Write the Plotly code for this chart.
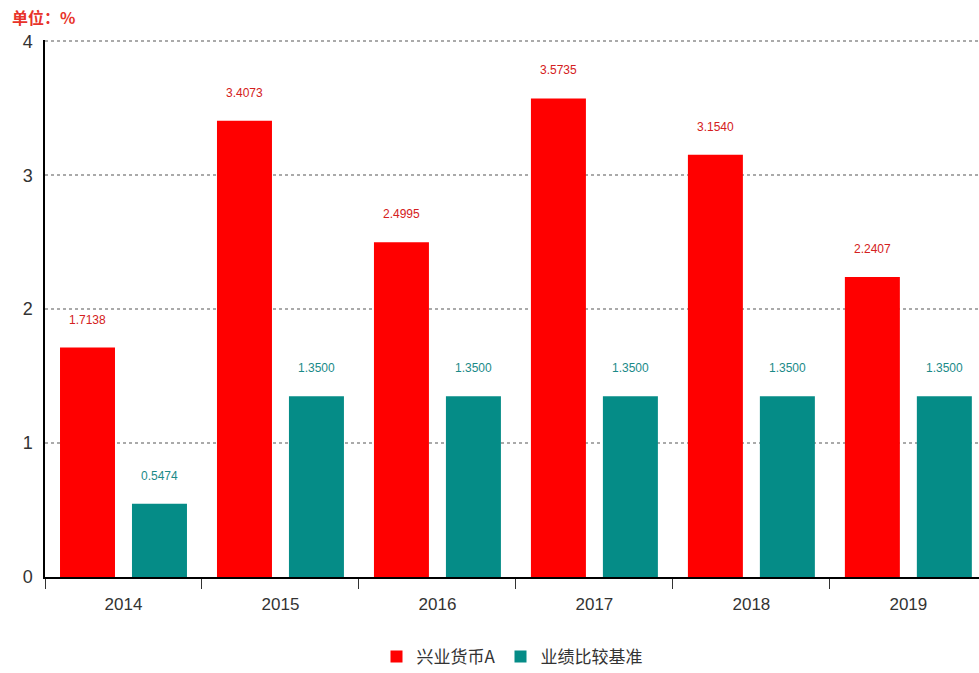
import plotly.graph_objects as go

years = ["2014", "2015", "2016", "2017", "2018", "2019"]
fund_values = [1.7138, 3.4073, 2.4995, 3.5735, 3.1540, 2.2407]
bench_values = [0.5474, 1.3500, 1.3500, 1.3500, 1.3500, 1.3500]
series_names = ["兴业货币A", "业绩比较基准"]
y_ticks = [0, 1, 2, 3, 4]

RED = "#ff0000"
TEAL = "#058c87"
FONT = "Liberation Sans Narrow, Liberation Sans, Arial, sans-serif"
CJK = "Noto Sans CJK SC, sans-serif"

fig = go.Figure()
fig.add_trace(go.Bar(x=years, y=fund_values, name=series_names[0],
                     marker=dict(color=RED, line=dict(width=0))))
fig.add_trace(go.Bar(x=years, y=bench_values, name=series_names[1],
                     marker=dict(color=TEAL, line=dict(width=0))))

off = 0.229
for i, (a, b) in enumerate(zip(fund_values, bench_values)):
    fig.add_annotation(x=i - off, y=a, text=f"{a:.4f}", showarrow=False,
                       yshift=28, font=dict(family=FONT, size=12, color="#d42020"))
    fig.add_annotation(x=i + off, y=b, text=f"{b:.4f}", showarrow=False,
                       yshift=28, font=dict(family=FONT, size=12, color="#1a8a88"))

fig.add_annotation(xref="paper", yref="paper", x=-0.038, y=1.0, yshift=23,
                   xanchor="left", yanchor="middle", showarrow=False,
                   text="<b>单位：%</b>", font=dict(family=CJK, size=16, color="#e8332a"))

fig.update_layout(
    width=979, height=673,
    margin=dict(l=45, r=0, t=40, b=96, autoexpand=False),
    paper_bgcolor="white", plot_bgcolor="white",
    barmode="group", bargap=0.083, bargroupgap=0.236,
    showlegend=True,
    legend=dict(orientation="h", x=0.5, xanchor="center", y=-0.149, yanchor="middle",
                font=dict(family=CJK, size=17, color="#333333"),
                itemsizing="constant"),
    xaxis=dict(type="category", range=[-0.5, 5.45], automargin=False,
               showline=True, linecolor="#000000", linewidth=1.5,
               ticks="outside", tickson="boundaries", ticklen=10, tickcolor="#333333",
               showgrid=False, ticklabelstandoff=11,
               tickfont=dict(family=FONT, size=17, color="#333333")),
    yaxis=dict(range=[0, 4.01], tickvals=y_ticks, showline=True, linecolor="#000000",
               linewidth=1.5, ticks="", showgrid=True, gridcolor="#aaaaaa",
               griddash="dot", gridwidth=1.5, zeroline=False, automargin=False,
               tickfont=dict(family=FONT, size=18, color="#333333"), ticklabelstandoff=7),
)

fig.write_html("out.html", post_script="document.body.style.margin='0';",
               config={"displayModeBar": False})
